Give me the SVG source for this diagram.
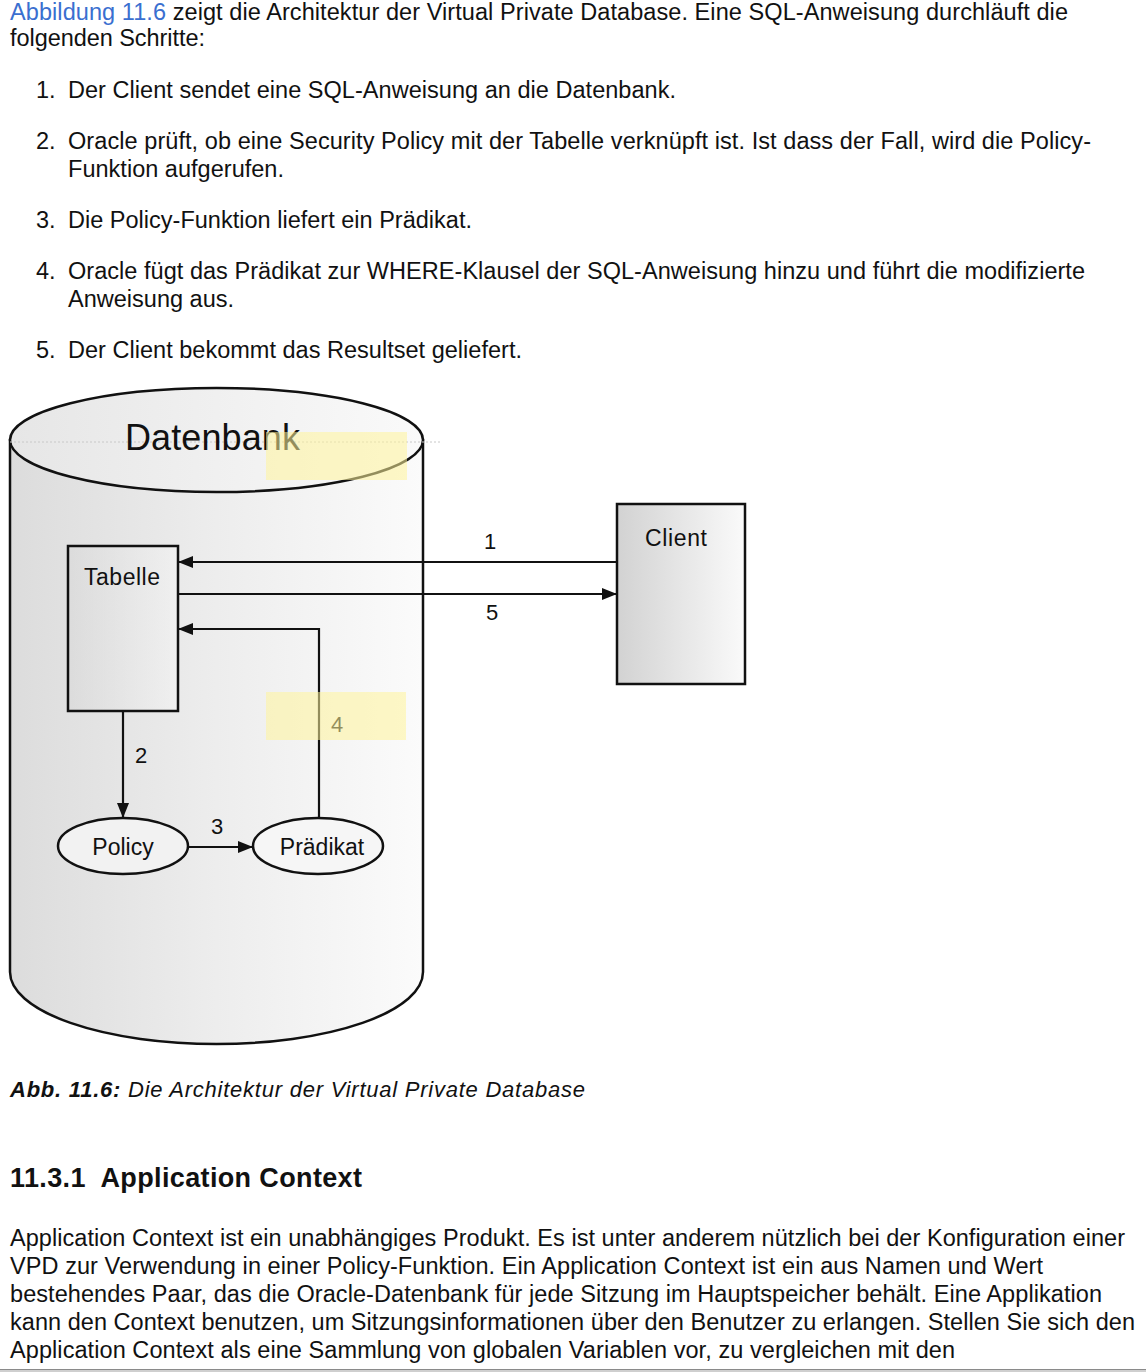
<svg xmlns="http://www.w3.org/2000/svg" width="1146" height="1372" viewBox="0 0 1146 1372">
<style>
  .t { font-family: "Liberation Sans", Arial, sans-serif; font-size: 23.5px; fill: #111; }
  .lnk { fill: #3a6fd0; }
  .lbl { font-family: "Liberation Sans", Arial, sans-serif; font-size: 23px; fill: #111; }
  .num { font-family: "Liberation Sans", Arial, sans-serif; font-size: 22px; fill: #111; }
  .shape { stroke: #111; stroke-width: 2.5; }
  .conn { stroke: #111; stroke-width: 2.2; fill: none; }
  .hl { fill: #fff49a; opacity: 0.55; }
</style>
<defs>
  <linearGradient id="gCyl" x1="0" y1="0" x2="1" y2="0">
    <stop offset="0" stop-color="#dcdcdc"/>
    <stop offset="0.5" stop-color="#ededed"/>
    <stop offset="1" stop-color="#fbfbfb"/>
  </linearGradient>
  <linearGradient id="gTop" x1="0" y1="0" x2="1" y2="0">
    <stop offset="0" stop-color="#e6e6e6"/>
    <stop offset="1" stop-color="#fafafa"/>
  </linearGradient>
  <linearGradient id="gBox" x1="0" y1="0" x2="1" y2="0">
    <stop offset="0" stop-color="#d2d2d2"/>
    <stop offset="1" stop-color="#fafafa"/>
  </linearGradient>
  <marker id="ah" markerUnits="userSpaceOnUse" markerWidth="16" markerHeight="12" refX="15" refY="6" orient="auto">
    <path d="M0,0 L15,6 L0,12 z" fill="#111"/>
  </marker>
</defs>
<rect width="1146" height="1372" fill="#ffffff"/>

<!-- top text -->
<g id="intro">
  <text class="t" x="10" y="20" font-size="22.5" textLength="1058"><tspan class="lnk">Abbildung 11.6</tspan> zeigt die Architektur der Virtual Private Database. Eine SQL-Anweisung durchläuft die</text>
  <text class="t" x="10" y="46" textLength="195">folgenden Schritte:</text>
</g>
<g id="list">
  <text class="t" x="36" y="98">1.</text>
  <text class="t" x="68" y="98" textLength="608">Der Client sendet eine SQL-Anweisung an die Datenbank.</text>
  <text class="t" x="36" y="149">2.</text>
  <text class="t" x="68" y="149" textLength="1023">Oracle prüft, ob eine Security Policy mit der Tabelle verknüpft ist. Ist dass der Fall, wird die Policy-</text>
  <text class="t" x="68" y="177" textLength="216">Funktion aufgerufen.</text>
  <text class="t" x="36" y="228">3.</text>
  <text class="t" x="68" y="228" textLength="404">Die Policy-Funktion liefert ein Prädikat.</text>
  <text class="t" x="36" y="279">4.</text>
  <text class="t" x="68" y="279" textLength="1017">Oracle fügt das Prädikat zur WHERE-Klausel der SQL-Anweisung hinzu und führt die modifizierte</text>
  <text class="t" x="68" y="307" textLength="166">Anweisung aus.</text>
  <text class="t" x="36" y="358">5.</text>
  <text class="t" x="68" y="358" textLength="454">Der Client bekommt das Resultset geliefert.</text>
</g>

<!-- Datenbank cylinder -->
<g id="datenbank">
  <path class="shape" fill="url(#gCyl)" d="M10,440 L10,972 A206.5,72 0 0 0 423,972 L423,440 Z"/>
  <ellipse class="shape" fill="url(#gTop)" cx="216.5" cy="440" rx="206.5" ry="52"/>
  <line x1="10" y1="442" x2="440" y2="442" stroke="#c8c8c8" stroke-width="1" stroke-dasharray="2,2"/>
  <text x="125" y="450" font-family="'Liberation Sans', Arial, sans-serif" font-size="36" fill="#111" textLength="175">Datenbank</text>
  <rect class="hl" x="266" y="432" width="141" height="48"/>
</g>

<g id="tabelle">
  <rect class="shape" fill="url(#gBox)" fill-opacity="0.35" x="68" y="546" width="110" height="165"/>
  <text class="lbl" x="84" y="585" textLength="76">Tabelle</text>
</g>

<g id="policy">
  <ellipse class="shape" fill="#f2f2f2" cx="123" cy="846" rx="65" ry="28"/>
  <text class="lbl" x="123" y="855" text-anchor="middle">Policy</text>
</g>

<g id="praedikat">
  <ellipse class="shape" fill="#f6f6f6" cx="318" cy="846" rx="65" ry="28"/>
  <text class="lbl" x="322" y="855" text-anchor="middle">Prädikat</text>
</g>

<g id="client">
  <rect class="shape" fill="url(#gBox)" x="617" y="504" width="128" height="180"/>
  <text class="lbl" x="645" y="546" textLength="62">Client</text>
</g>

<g id="connectors">
  <line class="conn" x1="617" y1="562" x2="178" y2="562" marker-end="url(#ah)"/>
  <line class="conn" x1="178" y1="594" x2="617" y2="594" marker-end="url(#ah)"/>
  <polyline class="conn" points="319,818 319,629 178,629" marker-end="url(#ah)"/>
  <line class="conn" x1="123" y1="711" x2="123" y2="818" marker-end="url(#ah)"/>
  <line class="conn" x1="188" y1="847" x2="253" y2="847" marker-end="url(#ah)"/>
  <text class="num" x="484" y="549">1</text>
  <text class="num" x="486" y="620">5</text>
  <text class="num" x="135" y="763">2</text>
  <text class="num" x="211" y="834">3</text>
  <text class="num" x="331" y="732">4</text>
  <rect class="hl" x="266" y="692" width="140" height="48"/>
</g>

<!-- caption and body -->
<g id="caption">
  <text x="10" y="1097" font-family="'Liberation Sans', Arial, sans-serif" font-size="22" font-style="italic" fill="#111" textLength="575"><tspan font-weight="bold">Abb. 11.6:</tspan> Die Architektur der Virtual Private Database</text>
</g>
<g id="section">
  <text x="10" y="1187" font-family="'Liberation Sans', Arial, sans-serif" font-size="27" font-weight="bold" fill="#111" xml:space="preserve" textLength="352">11.3.1  Application Context</text>
  <text class="t" x="10" y="1246" textLength="1115">Application Context ist ein unabhängiges Produkt. Es ist unter anderem nützlich bei der Konfiguration einer</text>
  <text class="t" x="10" y="1274" textLength="1033">VPD zur Verwendung in einer Policy-Funktion. Ein Application Context ist ein aus Namen und Wert</text>
  <text class="t" x="10" y="1302" textLength="1092">bestehendes Paar, das die Oracle-Datenbank für jede Sitzung im Hauptspeicher behält. Eine Applikation</text>
  <text class="t" x="10" y="1330" textLength="1125">kann den Context benutzen, um Sitzungsinformationen über den Benutzer zu erlangen. Stellen Sie sich den</text>
  <text class="t" x="10" y="1358" textLength="945">Application Context als eine Sammlung von globalen Variablen vor, zu vergleichen mit den</text>
</g>
<rect x="0" y="1369" width="1146" height="3" fill="#cfcfcf"/>
<line x1="0" y1="1369.5" x2="1146" y2="1369.5" stroke="#8a8a8a" stroke-width="1"/>
</svg>
